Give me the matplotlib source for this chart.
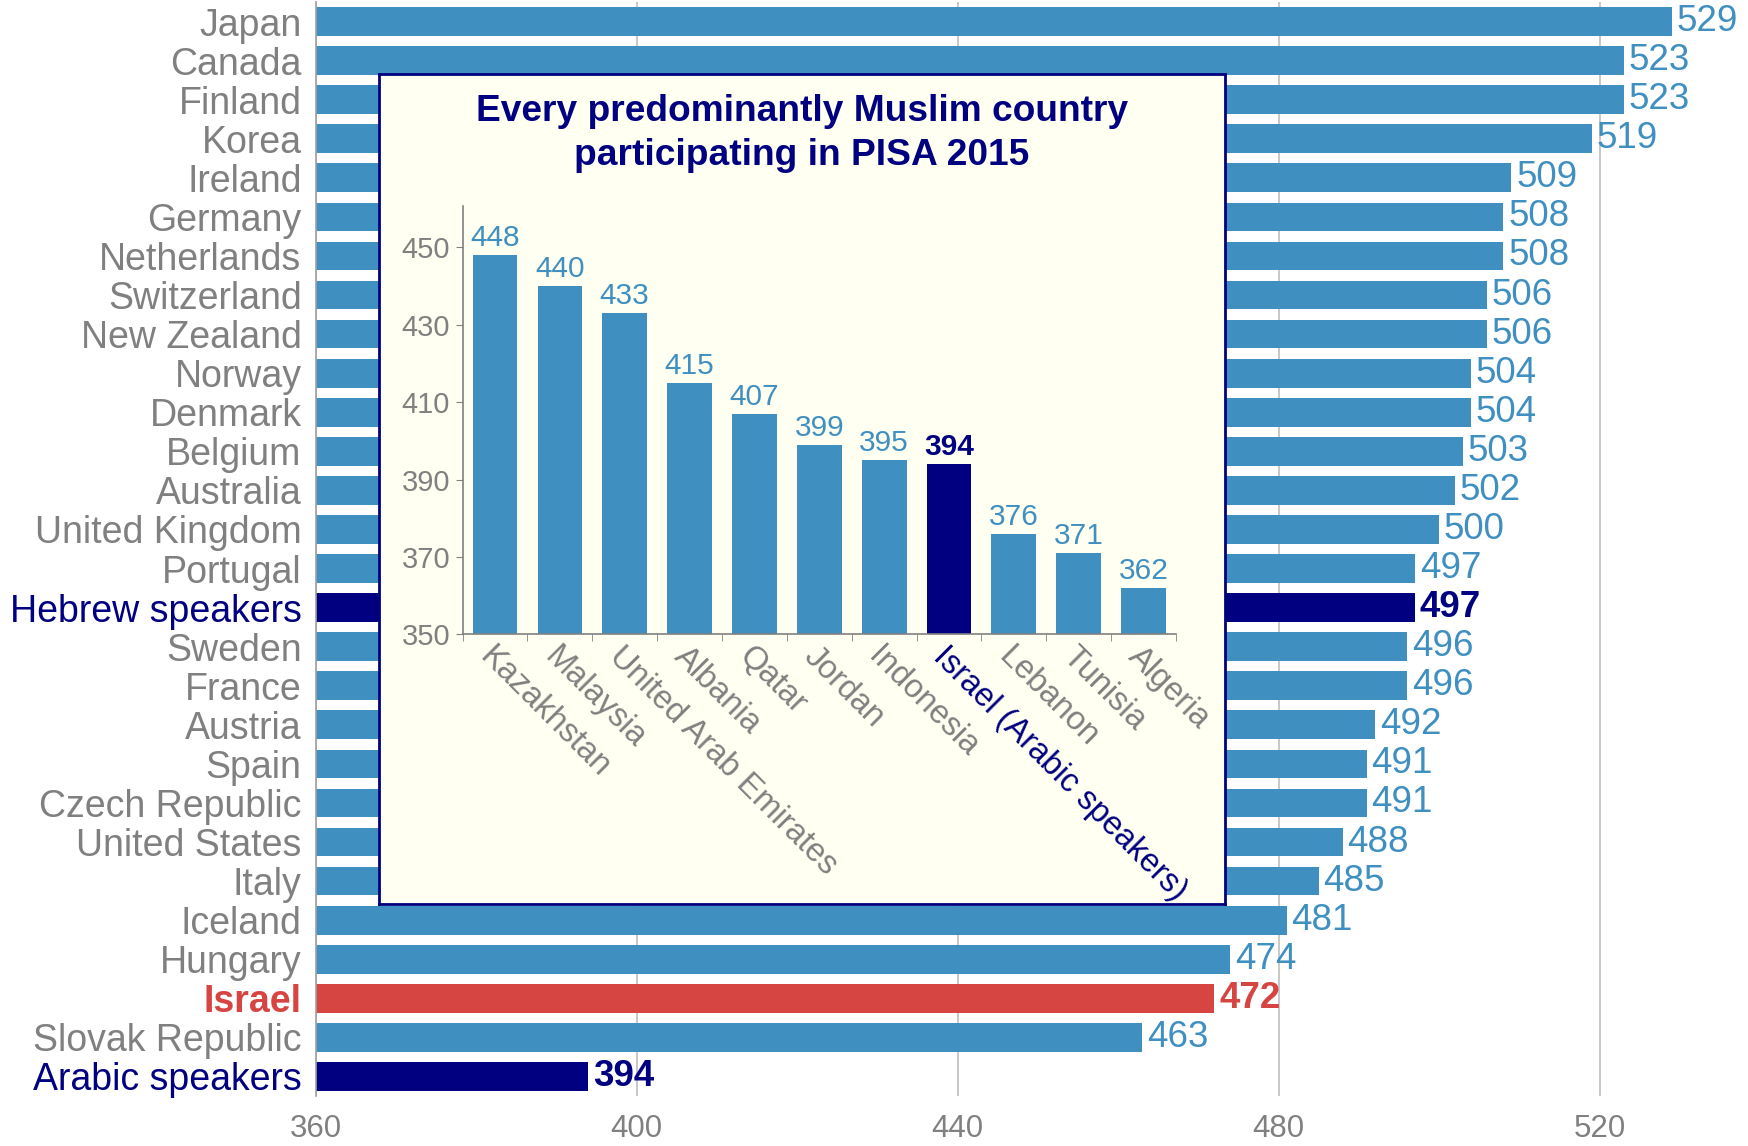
import matplotlib
matplotlib.use("Agg")
import matplotlib.pyplot as plt
import numpy as np

plt.rcParams['font.family'] = ['Liberation Sans', 'DejaVu Sans']

countries = ["Japan", "Canada", "Finland", "Korea", "Ireland", "Germany", "Netherlands",
             "Switzerland", "New Zealand", "Norway", "Denmark", "Belgium", "Australia",
             "United Kingdom", "Portugal", "Hebrew speakers", "Sweden", "France", "Austria",
             "Spain", "Czech Republic", "United States", "Italy", "Iceland", "Hungary",
             "Israel", "Slovak Republic", "Arabic speakers"]
scores = [529, 523, 523, 519, 509, 508, 508, 506, 506, 504, 504, 503, 502, 500, 497,
          497, 496, 496, 492, 491, 491, 488, 485, 481, 474, 472, 463, 394]

inset_countries = ["Kazakhstan", "Malaysia", "United Arab Emirates", "Albania", "Qatar",
                   "Jordan", "Indonesia", "Israel (Arabic speakers)", "Lebanon", "Tunisia",
                   "Algeria"]
inset_scores = [448, 440, 433, 415, 407, 399, 395, 394, 376, 371, 362]

inset_title = "Every predominantly Muslim country\nparticipating in PISA 2015"
x_ticks = [360, 400, 440, 480, 520]
inset_yticks = [350, 370, 390, 410, 430, 450]

BLUE = "#3F8FC1"
NAVY = "#000080"
RED = "#D64541"
GRAY = "#808080"

W, H = 1748, 1146
fig = plt.figure(figsize=(W / 100, H / 100), dpi=100)

# main axes
ax_l, ax_r = 315.5, 1748
ax_t, ax_b = 2, 1096
ax = fig.add_axes([ax_l / W, 1 - ax_b / H, (ax_r - ax_l) / W, (ax_b - ax_t) / H])

special = {"Hebrew speakers": (NAVY, NAVY, "normal", "bold"),
           "Israel": (RED, RED, "bold", "bold"),
           "Arabic speakers": (NAVY, NAVY, "normal", "bold")}

y = np.arange(len(countries))
bar_colors = [special[c][0] if c in special else BLUE for c in countries]
ax.barh(y, [s - 360 for s in scores], left=360, height=0.735, color=bar_colors, zorder=2)
ax.set_xlim(360, 538.5)
ax.set_ylim(len(countries) - 0.5, -0.5)
ax.set_yticks(y)
ax.set_yticklabels(countries, fontsize=27)
for lbl, c in zip(ax.get_yticklabels(), countries):
    if c in special:
        lbl.set_color(special[c][1])
        lbl.set_fontweight(special[c][2])
    else:
        lbl.set_color(GRAY)
ax.set_xticks(x_ticks)
ax.set_xticklabels([str(t) for t in x_ticks], fontsize=22.5, color=GRAY)
ax.tick_params(axis='both', length=0)
ax.tick_params(axis='y', pad=10)
ax.tick_params(axis='x', pad=13)
ax.grid(axis='x', color="#BFBFBF", linewidth=1.2, zorder=0)
ax.set_axisbelow(True)
for s in ["top", "right", "bottom"]:
    ax.spines[s].set_visible(False)
ax.spines["left"].set_color("#A0A0A0")
ax.spines["left"].set_linewidth(1.2)

for yi, c, s in zip(y, countries, scores):
    if c in special:
        col, wt = special[c][1], special[c][3]
    else:
        col, wt = BLUE, "normal"
    ax.text(s + 0.6, yi, str(s), va="center", ha="left", fontsize=26.5,
            color=col, fontweight=wt, zorder=3)

# inset box
bx_l, bx_r, bx_t, bx_b = 379, 1225, 74, 904
box = fig.add_axes([bx_l / W, 1 - bx_b / H, (bx_r - bx_l) / W, (bx_b - bx_t) / H], zorder=5)
box.set_facecolor("#FFFFF2")
box.set_xticks([])
box.set_yticks([])
for s in box.spines.values():
    s.set_color(NAVY)
    s.set_linewidth(2)
box.text(0.5, 0.928, inset_title, transform=box.transAxes, ha="center", va="center",
         fontsize=26.7, fontweight="bold", color=NAVY, linespacing=1.35)

# inset chart
in_l, in_r, in_t, in_b = 462.6, 1176, 206, 634.3
iax = fig.add_axes([in_l / W, 1 - in_b / H, (in_r - in_l) / W, (in_b - in_t) / H], zorder=6)
iax.patch.set_alpha(0)
xi = np.arange(len(inset_countries))
icolors = [NAVY if "Israel" in c else BLUE for c in inset_countries]
iax.bar(xi, [v - 350 for v in inset_scores], bottom=350, width=0.69, color=icolors)
iax.set_xlim(-0.5, len(inset_countries) - 0.5)
iax.set_ylim(350, 460.7)
iax.set_yticks(inset_yticks)
iax.set_yticklabels([str(t) for t in inset_yticks], fontsize=21, color=GRAY)
iax.tick_params(axis='y', length=5, color=GRAY, pad=4)
iax.set_xticks(xi)
iax.set_xticklabels(inset_countries, fontsize=23.5, rotation=-45, ha="left", va="top",
                    rotation_mode="anchor")
iax.tick_params(axis='x', length=0, pad=5)
iax.set_xticks(np.arange(-0.5, len(inset_countries)), minor=True)
iax.tick_params(axis='x', which='minor', length=5, color=GRAY)
for lbl, c in zip(iax.get_xticklabels(), inset_countries):
    lbl.set_color(NAVY if "Israel" in c else GRAY)
for s in ["top", "right"]:
    iax.spines[s].set_visible(False)
for s in ["left", "bottom"]:
    iax.spines[s].set_color(GRAY)
    iax.spines[s].set_linewidth(1.2)
for x, c, v in zip(xi, inset_countries, inset_scores):
    isr = "Israel" in c
    iax.text(x, v + 0.8, str(v), ha="center", va="bottom", fontsize=21.5,
             color=NAVY if isr else BLUE, fontweight="bold" if isr else "normal")

fig.savefig("out.png", dpi=100)
